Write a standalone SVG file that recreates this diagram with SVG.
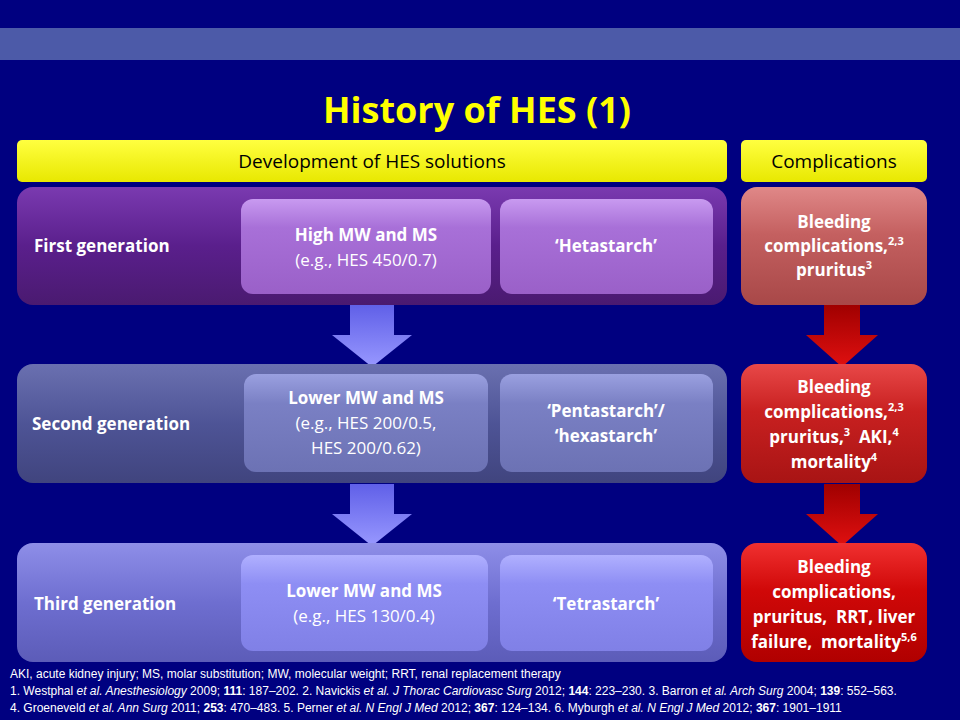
<svg xmlns="http://www.w3.org/2000/svg" width="960" height="720" viewBox="0 0 960 720">
<defs>
<linearGradient id="yel" x1="0" y1="0" x2="0" y2="1"><stop offset="0" stop-color="#ffff40"/><stop offset="1" stop-color="#e8e800"/></linearGradient>
<linearGradient id="g1" x1="0" y1="0" x2="0" y2="1"><stop offset="0" stop-color="#7a3ab0"/><stop offset="0.5" stop-color="#5a1f8c"/><stop offset="1" stop-color="#4a1a70"/></linearGradient>
<linearGradient id="g2" x1="0" y1="0" x2="0" y2="1"><stop offset="0" stop-color="#6a70b0"/><stop offset="0.5" stop-color="#4e5496"/><stop offset="1" stop-color="#40447e"/></linearGradient>
<linearGradient id="g3" x1="0" y1="0" x2="0" y2="1"><stop offset="0" stop-color="#8e8ee8"/><stop offset="0.5" stop-color="#6e6ed0"/><stop offset="1" stop-color="#5c5cb8"/></linearGradient>
<linearGradient id="i1" x1="0" y1="0" x2="0" y2="1"><stop offset="0" stop-color="#c89af0"/><stop offset="0.3" stop-color="#a870d8"/><stop offset="1" stop-color="#9a60c8"/></linearGradient>
<linearGradient id="i2" x1="0" y1="0" x2="0" y2="1"><stop offset="0" stop-color="#9aa0e0"/><stop offset="0.3" stop-color="#7a80c4"/><stop offset="1" stop-color="#6c72b4"/></linearGradient>
<linearGradient id="i3" x1="0" y1="0" x2="0" y2="1"><stop offset="0" stop-color="#b0b0ff"/><stop offset="0.3" stop-color="#8e8ef4"/><stop offset="1" stop-color="#8080e6"/></linearGradient>
<linearGradient id="r1" x1="0" y1="0" x2="0" y2="1"><stop offset="0" stop-color="#e08888"/><stop offset="0.4" stop-color="#c46060"/><stop offset="1" stop-color="#a84848"/></linearGradient>
<linearGradient id="r2" x1="0" y1="0" x2="0" y2="1"><stop offset="0" stop-color="#e84848"/><stop offset="0.4" stop-color="#c82020"/><stop offset="1" stop-color="#a81414"/></linearGradient>
<linearGradient id="r3" x1="0" y1="0" x2="0" y2="1"><stop offset="0" stop-color="#f03030"/><stop offset="0.4" stop-color="#d00808"/><stop offset="1" stop-color="#b00000"/></linearGradient>
<linearGradient id="ba" x1="0" y1="0" x2="0" y2="1"><stop offset="0" stop-color="#6060e8"/><stop offset="1" stop-color="#9898ff"/></linearGradient>
<linearGradient id="ra" x1="0" y1="0" x2="0" y2="1"><stop offset="0" stop-color="#a00000"/><stop offset="1" stop-color="#e01010"/></linearGradient>
</defs>
<style>
text{font-family:"Open Sans","Liberation Sans",sans-serif;fill:#fff}
.b{font-weight:bold;font-size:17px}
.n{font-size:17px}
.h{font-size:19px;fill:#000}
.f{font-size:12px;font-family:"Liberation Sans Narrow","Liberation Sans",sans-serif}
</style>
<rect width="960" height="720" fill="#000080"/>
<rect y="28" width="960" height="32" fill="#4c5aa8"/>
<text x="477" y="123" text-anchor="middle" style="font-size:36px;font-weight:bold;fill:#ffff00">History of HES (1)</text>
<g id="hdr-dev"><rect x="17" y="140" width="710" height="42" rx="5" fill="url(#yel)"/><text class="h" x="372" y="168" text-anchor="middle">Development of HES solutions</text></g>
<g id="hdr-comp"><rect x="741" y="140" width="186" height="42" rx="5" fill="url(#yel)"/><text class="h" x="834" y="168" text-anchor="middle">Complications</text></g>
<g id="connectors">
<path d="M350 305h44v30h18l-40 32l-40-32h18z" fill="url(#ba)"/>
<path d="M350 484h44v30h18l-40 32l-40-32h18z" fill="url(#ba)"/>
<path d="M824 305h36v30h18l-36 32l-36-32h18z" fill="url(#ra)"/>
<path d="M824 484h36v30h18l-36 32l-36-32h18z" fill="url(#ra)"/>
</g>
<g id="gen1"><rect x="17" y="187" width="710" height="118" rx="16" fill="url(#g1)"/><text class="b" x="34" y="252">First generation</text></g>
<g id="gen1-a"><rect x="241" y="199" width="250" height="95" rx="12" fill="url(#i1)"/><text class="b" x="366" y="241" text-anchor="middle">High MW and MS</text><text class="n" x="366" y="266" text-anchor="middle">(e.g., HES 450/0.7)</text></g>
<g id="gen1-b"><rect x="500" y="199" width="213" height="95" rx="12" fill="url(#i1)"/><text class="b" x="606" y="252" text-anchor="middle">‘Hetastarch’</text></g>
<g id="gen2"><rect x="17" y="364" width="710" height="119" rx="16" fill="url(#g2)"/><text class="b" x="32" y="430">Second generation</text></g>
<g id="gen2-a"><rect x="244" y="374" width="244" height="98" rx="12" fill="url(#i2)"/><text class="b" x="366" y="404" text-anchor="middle">Lower MW and MS</text><text class="n" x="366" y="429" text-anchor="middle">(e.g., HES 200/0.5,</text><text class="n" x="366" y="454" text-anchor="middle">HES 200/0.62)</text></g>
<g id="gen2-b"><rect x="500" y="374" width="213" height="98" rx="12" fill="url(#i2)"/><text class="b" x="606" y="417" text-anchor="middle">‘Pentastarch’/</text><text class="b" x="606" y="442" text-anchor="middle">‘hexastarch’</text></g>
<g id="gen3"><rect x="17" y="543" width="710" height="119" rx="16" fill="url(#g3)"/><text class="b" x="34" y="610">Third generation</text></g>
<g id="gen3-a"><rect x="241" y="555" width="247" height="96" rx="12" fill="url(#i3)"/><text class="b" x="364" y="597" text-anchor="middle">Lower MW and MS</text><text class="n" x="364" y="622" text-anchor="middle">(e.g., HES 130/0.4)</text></g>
<g id="gen3-b"><rect x="500" y="555" width="213" height="96" rx="12" fill="url(#i3)"/><text class="b" x="606" y="610" text-anchor="middle">‘Tetrastarch’</text></g>
<g id="comp1"><rect x="741" y="187" width="186" height="118" rx="16" fill="url(#r1)"/><text class="b" x="834" y="228" text-anchor="middle">Bleeding</text><text class="b" x="834" y="252" text-anchor="middle">complications,<tspan dy="-7" font-size="11">2,3</tspan></text><text class="b" x="834" y="276" text-anchor="middle">pruritus<tspan dy="-7" font-size="11">3</tspan></text></g>
<g id="comp2"><rect x="741" y="364" width="186" height="119" rx="16" fill="url(#r2)"/><text class="b" x="834" y="393" text-anchor="middle">Bleeding</text><text class="b" x="834" y="418" text-anchor="middle">complications,<tspan dy="-7" font-size="11">2,3</tspan></text><text class="b" x="834" y="443" text-anchor="middle" xml:space="preserve">pruritus,<tspan dy="-7" font-size="11">3</tspan><tspan dy="7">  AKI,</tspan><tspan dy="-7" font-size="11">4</tspan></text><text class="b" x="834" y="468" text-anchor="middle">mortality<tspan dy="-7" font-size="11">4</tspan></text></g>
<g id="comp3"><rect x="741" y="543" width="186" height="119" rx="16" fill="url(#r3)"/><text class="b" x="834" y="573" text-anchor="middle">Bleeding</text><text class="b" x="834" y="598" text-anchor="middle">complications,</text><text class="b" x="834" y="623" text-anchor="middle" xml:space="preserve">pruritus,  RRT, liver</text><text class="b" x="834" y="648" text-anchor="middle" xml:space="preserve">failure,  mortality<tspan dy="-7" font-size="11">5,6</tspan></text></g>
<text class="f" x="10" y="678">AKI, acute kidney injury; MS, molar substitution; MW, molecular weight; RRT, renal replacement therapy</text>
<text class="f" x="10" y="695">1. Westphal <tspan font-style="italic">et al. Anesthesiology</tspan> 2009; <tspan font-weight="bold">111</tspan>: 187–202. 2. Navickis <tspan font-style="italic">et al. J Thorac Cardiovasc Surg</tspan> 2012; <tspan font-weight="bold">144</tspan>: 223–230. 3. Barron <tspan font-style="italic">et al. Arch Surg</tspan> 2004; <tspan font-weight="bold">139</tspan>: 552–563.</text>
<text class="f" x="10" y="712">4. Groeneveld <tspan font-style="italic">et al. Ann Surg</tspan> 2011; <tspan font-weight="bold">253</tspan>: 470–483. 5. Perner <tspan font-style="italic">et al. N Engl J Med</tspan> 2012; <tspan font-weight="bold">367</tspan>: 124–134. 6. Myburgh <tspan font-style="italic">et al. N Engl J Med</tspan> 2012; <tspan font-weight="bold">367</tspan>: 1901–1911</text>
</svg>
